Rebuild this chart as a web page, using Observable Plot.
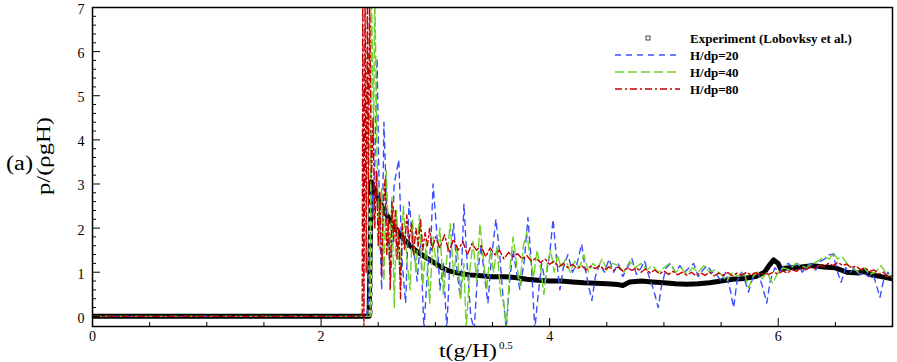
<!DOCTYPE html>
<html><head><meta charset="utf-8">
<script src="https://cdn.jsdelivr.net/npm/d3@7"></script>
<script src="https://cdn.jsdelivr.net/npm/@observablehq/plot@0.6"></script>
<style>
body{margin:0;background:#fff;}
#wrap{position:relative;width:897px;height:362px;}
</style></head><body><div id="wrap"></div><script>
// ---- data ----
const xMajorTicks = [0, 2, 4, 6];
const xMinorTicks = [0.5, 1, 1.5, 2.5, 3, 3.5, 4.5, 5, 5.5, 6.5];
const yMajorTicks = [0, 1, 2, 3, 4, 5, 6, 7];
const yMinorTicks = [0.2,0.4,0.6,0.8,1.2,1.4,1.6,1.8,2.2,2.4,2.6,2.8,3.2,3.4,3.6,3.8,4.2,4.4,4.6,4.8,5.2,5.4,5.6,5.8,6.2,6.4,6.6,6.8];
const seriesNames = ["Experiment (Lobovksy et al.)", "H/dp=20", "H/dp=40", "H/dp=80"];

const expT = [0,2.42,2.44,2.47,2.50,2.55,2.60,2.65,2.70,2.75,2.80,2.85,2.92,3.00,3.06,3.12,3.20,3.30,3.40,3.50,3.60,3.70,3.80,3.90,4.00,4.10,4.20,4.30,4.40,4.50,4.60,4.64,4.70,4.80,4.90,5.00,5.10,5.20,5.30,5.40,5.50,5.60,5.70,5.80,5.88,5.92,5.96,6.00,6.02,6.10,6.20,6.30,6.40,6.50,6.55,6.60,6.70,6.75,6.80,6.90,7.00];
const expV = [0,0,3.05,2.85,2.65,2.4,2.2,2.0,1.82,1.68,1.55,1.45,1.33,1.2,1.1,1.03,0.98,0.94,0.92,0.9,0.9,0.88,0.84,0.82,0.8,0.8,0.78,0.76,0.75,0.74,0.72,0.7,0.78,0.8,0.78,0.76,0.74,0.73,0.74,0.76,0.8,0.84,0.86,0.9,1.0,1.15,1.28,1.2,1.08,1.1,1.12,1.15,1.12,1.1,1.05,1.0,0.98,1.02,0.95,0.9,0.85];
const expRiseT = [2.43,2.43,2.43,2.43,2.43,2.43,2.43,2.43,2.43,2.43,2.43,2.43,2.43,2.43];
const expRiseV = [0.1,0.3,0.5,0.7,0.9,1.1,1.3,1.5,1.7,1.9,2.1,2.3,2.5,2.7];

const h20T = [0,2.40,2.42,2.44,2.46,2.49,2.51,2.53,2.55,2.58,2.61,2.64,2.68,2.71,2.74,2.77,2.80,2.84,2.87,2.90,2.93,2.96,2.98,3.01,3.04,3.07,3.10,3.13,3.16,3.19,3.22,3.25,3.28,3.31,3.34,3.37,3.40,3.43,3.46,3.49,3.53,3.56,3.59,3.62,3.65,3.68,3.71,3.74,3.78,3.81,3.84,3.87,3.90,3.93,3.96,4.00,4.03,4.06,4.09,4.12,4.16,4.20,4.24,4.28,4.31,4.34,4.37,4.40,4.44,4.48,4.52,4.56,4.60,4.64,4.68,4.72,4.76,4.80,4.83,4.87,4.91,4.95,4.98,5.02,5.06,5.10,5.14,5.18,5.22,5.26,5.30,5.34,5.38,5.42,5.46,5.50,5.54,5.58,5.61,5.64,5.68,5.71,5.74,5.78,5.82,5.86,5.90,5.93,5.97,6.01,6.05,6.09,6.13,6.17,6.21,6.25,6.29,6.33,6.37,6.41,6.45,6.48,6.52,6.55,6.59,6.63,6.67,6.71,6.75,6.79,6.83,6.86,6.89,6.92,6.96,7.0];
const h20V = [0,0,0.5,3.0,2.2,5.85,2.5,0.6,4.4,2.0,0.9,3.0,3.55,1.2,0.3,2.6,1.8,0.8,1.7,-0.3,1.0,1.6,3.0,2.0,0.6,1.2,-0.3,1.4,2.1,1.0,0.4,2.55,1.1,0.0,-0.3,1.0,1.6,0.9,0.3,1.3,2.2,1.5,0.5,-0.3,0.8,1.5,1.0,0.6,1.3,2.24,1.2,-0.3,0.5,1.2,0.8,1.4,2.2,1.3,0.6,1.1,1.4,1.0,1.2,1.64,1.1,0.7,0.36,0.9,1.2,1.0,1.3,1.0,1.2,0.9,1.1,1.3,0.95,1.1,1.26,0.9,0.6,0.2,0.7,1.1,1.2,1.0,1.15,1.0,1.1,1.2,0.9,1.05,1.15,1.0,0.95,0.8,1.0,0.6,0.2,0.8,1.0,0.8,0.55,0.9,1.0,0.7,0.3,0.8,1.1,1.0,1.15,1.2,1.1,1.2,1.0,1.15,1.2,1.05,1.25,1.3,1.4,1.41,1.0,0.77,1.1,1.0,1.1,0.95,1.0,0.9,0.95,0.7,0.43,0.8,1.0,0.85];

const h40T = [0,2.43,2.44,2.46,2.47,2.49,2.51,2.53,2.55,2.57,2.60,2.62,2.64,2.66,2.69,2.72,2.75,2.78,2.80,2.83,2.86,2.89,2.92,2.95,2.98,3.01,3.04,3.07,3.10,3.13,3.16,3.19,3.22,3.25,3.27,3.30,3.33,3.36,3.39,3.42,3.45,3.48,3.51,3.54,3.57,3.60,3.62,3.65,3.68,3.71,3.74,3.77,3.80,3.83,3.86,3.89,3.92,3.95,3.98,4.01,4.04,4.07,4.10,4.14,4.18,4.22,4.26,4.30,4.34,4.38,4.42,4.46,4.50,4.55,4.60,4.65,4.70,4.75,4.80,4.85,4.90,4.95,5.00,5.05,5.10,5.15,5.20,5.25,5.30,5.35,5.40,5.45,5.50,5.55,5.60,5.65,5.70,5.74,5.78,5.82,5.86,5.90,5.95,6.00,6.05,6.10,6.15,6.20,6.25,6.30,6.35,6.40,6.45,6.48,6.52,6.56,6.60,6.65,6.70,6.75,6.80,6.85,6.90,6.95,7.0];
const h40V = [0,0,7.5,4.0,7.5,3.5,1.5,2.9,0.8,3.3,1.2,2.7,0.2,2.4,0.9,2.5,1.3,0.6,2.2,1.0,2.3,0.7,1.7,0.3,1.8,1.1,2.0,0.5,1.3,2.1,0.9,1.6,0.4,1.2,-0.3,1.0,1.7,0.8,2.1,1.3,0.6,1.5,1.0,1.6,0.5,0.3,-0.3,1.0,1.8,1.2,0.7,1.6,1.9,1.3,0.9,1.5,1.1,0.5,1.2,1.5,1.0,1.4,1.1,1.3,1.0,1.25,1.1,1.4,1.0,1.2,1.1,1.3,1.05,1.2,1.15,1.0,1.25,1.1,1.2,1.05,1.15,1.0,1.1,1.2,1.0,1.1,0.95,1.1,1.0,1.15,1.0,1.05,0.95,0.8,1.0,0.9,1.0,0.65,0.9,1.0,0.85,1.0,0.75,1.0,1.1,1.05,1.2,1.15,1.1,1.2,1.25,1.35,1.3,1.45,1.3,1.35,1.2,1.1,1.0,1.1,0.95,1.0,1.15,0.95,0.9];

const h80T = [0,2.36,2.365,2.375,2.385,2.395,2.405,2.415,2.425,2.44,2.455,2.47,2.485,2.50,2.515,2.53,2.545,2.56,2.575,2.59,2.605,2.62,2.635,2.65,2.665,2.68,2.695,2.71,2.73,2.75,2.77,2.79,2.81,2.83,2.85,2.87,2.89,2.91,2.93,2.95,2.97,3.00,3.04,3.08,3.12,3.16,3.20,3.24,3.28,3.32,3.36,3.40,3.44,3.48,3.52,3.56,3.60,3.64,3.68,3.72,3.76,3.80,3.84,3.88,3.92,3.96,4.00,4.04,4.08,4.12,4.16,4.20,4.24,4.28,4.32,4.36,4.40,4.44,4.48,4.52,4.56,4.60,4.64,4.68,4.72,4.76,4.80,4.84,4.88,4.92,4.96,5.00,5.04,5.08,5.12,5.16,5.20,5.24,5.28,5.32,5.36,5.40,5.44,5.48,5.52,5.56,5.60,5.64,5.68,5.72,5.76,5.80,5.84,5.88,5.92,5.96,6.00,6.04,6.08,6.12,6.16,6.20,6.24,6.28,6.32,6.36,6.40,6.44,6.48,6.52,6.56,6.60,6.64,6.68,6.72,6.76,6.80,6.84,6.88,6.92,6.96,7.00];
const h80V = [0,0,7.5,-0.2,7.5,1.0,7.5,2.5,7.5,3.0,4.5,2.0,3.3,1.6,2.8,0.9,2.5,3.1,1.4,2.2,0.6,2.6,1.7,2.4,1.3,2.0,0.4,2.1,1.5,2.3,1.7,2.1,1.4,2.0,1.6,2.2,1.5,1.9,1.6,2.0,1.5,1.8,1.55,1.85,1.45,1.75,1.5,1.7,1.4,1.65,1.5,1.6,1.35,1.55,1.4,1.5,1.3,1.45,1.35,1.42,1.3,1.38,1.25,1.32,1.22,1.3,1.18,1.25,1.12,1.2,1.1,1.18,1.08,1.15,1.05,1.14,1.08,1.15,1.05,1.12,1.04,1.12,1.02,1.1,1.04,1.1,1.0,1.08,0.98,1.05,0.96,1.03,0.95,1.02,0.94,1.0,0.93,1.0,0.92,0.99,0.93,1.0,0.92,0.98,0.93,0.99,0.92,0.98,0.93,1.0,0.94,0.99,0.93,0.98,0.95,1.0,0.96,1.03,0.98,1.06,1.02,1.1,1.05,1.12,1.08,1.16,1.12,1.2,1.15,1.22,1.16,1.18,1.1,1.14,1.06,1.1,1.02,1.05,0.96,1.0,0.9,0.92];

// ---- tables ----
const toRows = (T, V) => T.map((t, i) => ({t, v: V[i]}));
const expRows = toRows(expT, expV);
const riseRows = toRows(expRiseT, expRiseV);
const h20Rows = toRows(h20T, h20V);
const h40Rows = toRows(h40T, h40V);
const h80Rows = toRows(h80T, h80V);

const BLUE = "#3b4dff", GREEN = "#6fd12b", RED = "#c40000";
const serif = "'Liberation Serif', 'Times New Roman', serif";
const fmt = d => String(d);

const plot = Plot.plot({
  width: 897, height: 362,
  marginLeft: 92, marginRight: 5, marginTop: 7, marginBottom: 36,
  style: {fontSize: "13px", background: "white", color: "black"},
  x: {domain: [0, 7], label: null},
  y: {domain: [-0.23, 7], label: null},
  marks: [
    Plot.line(expRows, {x: "t", y: "v", stroke: "black", strokeWidth: 5, clip: true}),
    Plot.dot(riseRows, {x: "t", y: "v", symbol: "square", r: 2.2, stroke: "#666", fill: "white", strokeWidth: 1}),
    Plot.line(h20Rows, {x: "t", y: "v", stroke: BLUE, strokeWidth: 1.4, strokeDasharray: "6,5", clip: true}),
    Plot.line(h40Rows, {x: "t", y: "v", stroke: GREEN, strokeWidth: 1.4, strokeDasharray: "9,4", clip: true}),
    Plot.line(h80Rows, {x: "t", y: "v", stroke: RED, strokeWidth: 1.4, strokeDasharray: "7,3,2,3", clip: true}),
    Plot.frame({stroke: "black", strokeWidth: 1.5}),
    Plot.axisX({ticks: xMajorTicks, tickSize: -8, tickFormat: () => "", label: null}),
    Plot.axisX({ticks: xMinorTicks, tickSize: -4, tickFormat: () => "", label: null}),
    Plot.axisX({ticks: xMajorTicks, tickSize: 0, tickPadding: 5, tickFormat: fmt, label: null, fontSize: 14}),
    Plot.axisY({ticks: yMajorTicks, tickSize: -8, tickFormat: () => "", label: null}),
    Plot.axisY({ticks: yMinorTicks, tickSize: -4, tickFormat: () => "", label: null}),
    Plot.axisY({ticks: yMajorTicks, tickSize: 0, tickPadding: 8, dy: 2, tickFormat: fmt, label: null, fontSize: 14})
  ]
});
document.getElementById("wrap").appendChild(plot);

// ---- labels & legend (drawn into the SVG) ----
const svg = d3.select(plot);
svg.append("text").attr("x", 6).attr("y", 170).attr("text-anchor", "start")
  .attr("font-size", 20).attr("textLength", 27).attr("lengthAdjust", "spacingAndGlyphs").text("(a)");
svg.append("text").attr("transform", "translate(50,156) rotate(-90)").attr("text-anchor", "middle")
  .attr("font-size", 18).attr("textLength", 78).attr("lengthAdjust", "spacingAndGlyphs")
  .text("p/(ρgH)");
svg.append("text").attr("x", 439).attr("y", 357).attr("text-anchor", "start")
  .attr("font-size", 19).attr("textLength", 58).attr("lengthAdjust", "spacingAndGlyphs").text("t(g/H)");
svg.append("text").attr("x", 499).attr("y", 349).attr("text-anchor", "start")
  .attr("font-size", 11).text("0.5");

const lg = svg.append("g").attr("font-size", 13).attr("font-weight", "bold").attr("text-anchor", "start");
const rowsY = [38, 55, 72, 89];
const styles = [null, {c: BLUE, d: "6,5"}, {c: GREEN, d: "9,4"}, {c: RED, d: "7,3,2,3"}];
seriesNames.forEach((name, i) => {
  const y = rowsY[i];
  if (i === 0) {
    lg.append("rect").attr("x", 646).attr("y", y - 2).attr("width", 4).attr("height", 4)
      .attr("fill", "white").attr("stroke", "#444").attr("stroke-width", 1);
  } else {
    lg.append("line").attr("x1", 615).attr("x2", 680).attr("y1", y).attr("y2", y)
      .attr("stroke", styles[i].c).attr("stroke-width", 1.4).attr("stroke-dasharray", styles[i].d);
  }
  lg.append("text").attr("x", 690).attr("y", y + 4.5).text(name);
});
// force serif face on every text (Plot's own stylesheet otherwise wins)
svg.attr("font-family", serif).style("font-family", serif);
svg.selectAll("g, text, tspan").style("font-family", serif);
</script></body></html>
